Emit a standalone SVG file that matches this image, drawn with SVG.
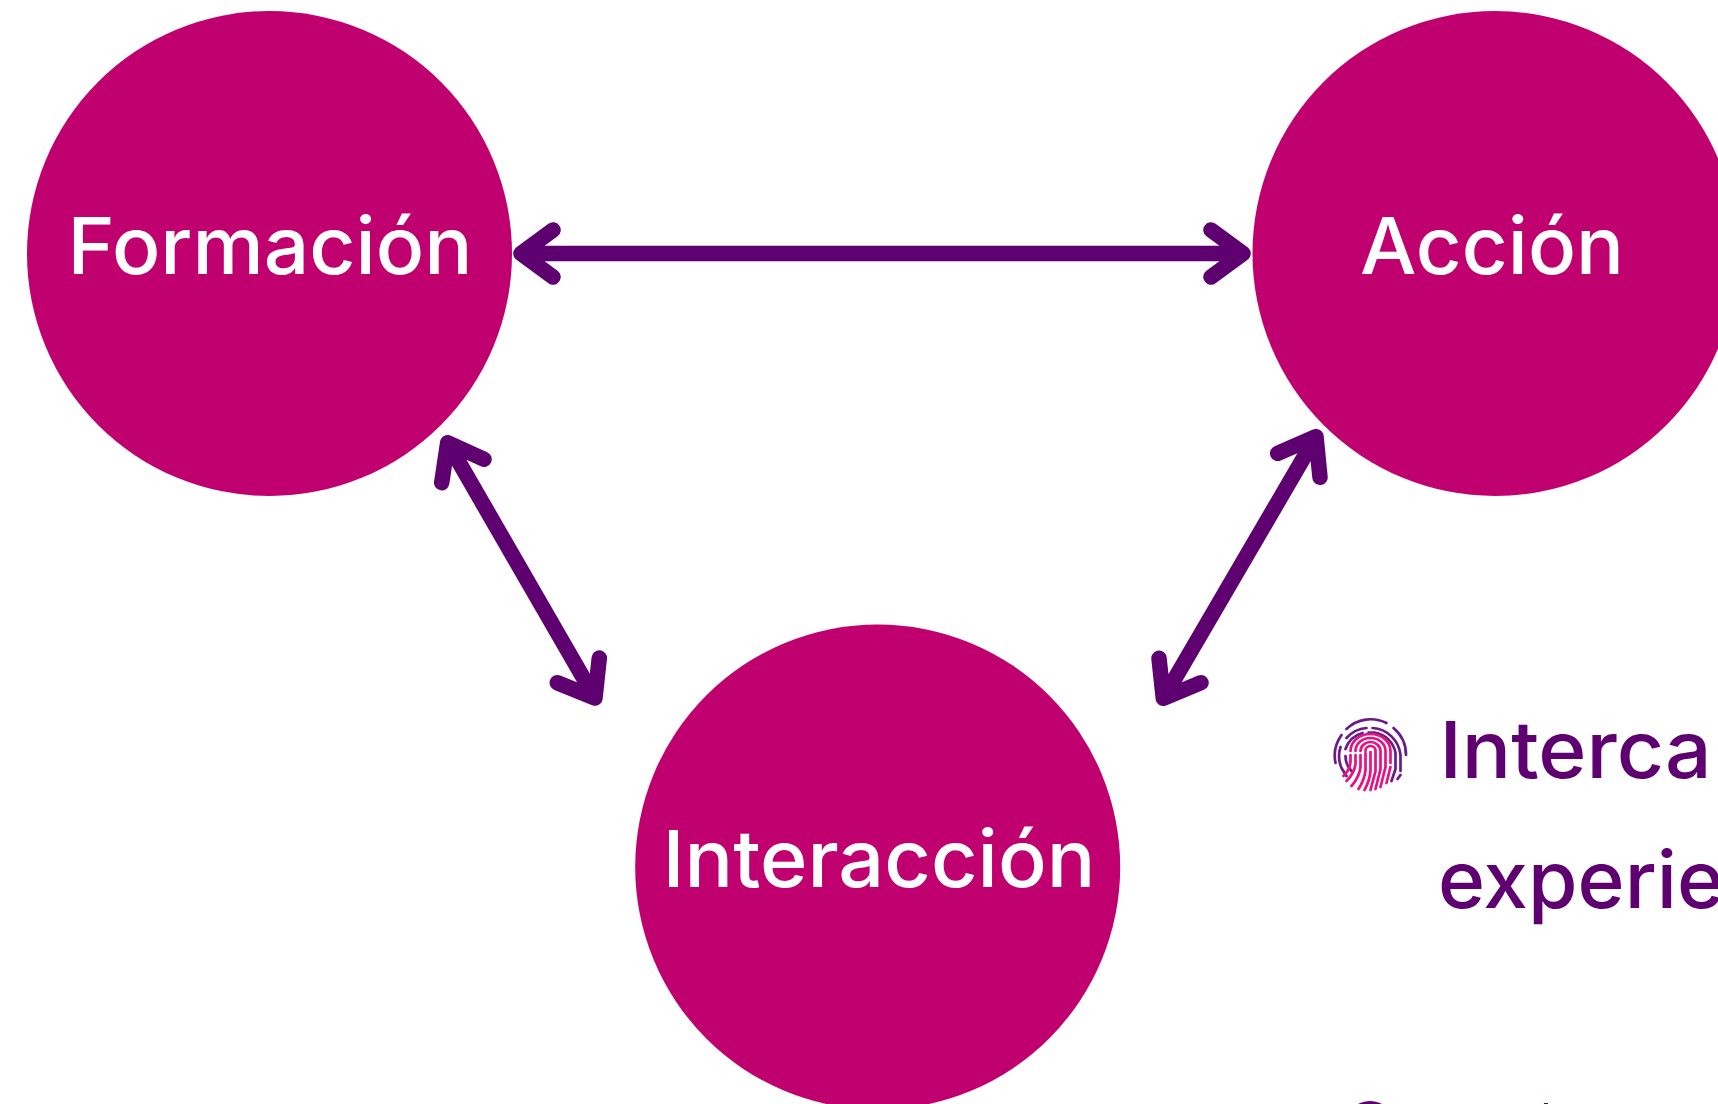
<svg xmlns="http://www.w3.org/2000/svg" width="1718" height="1104" viewBox="0 0 1718 1104">
<style>
.node{fill:#c1006f}
.lbl{font-family:"Inter","Open Sans",sans-serif;font-size:79px;font-weight:500;fill:#fff}
.side{font-family:"Inter","Open Sans",sans-serif;font-size:79px;font-weight:500;fill:#5e0070}
.arr{fill:none;stroke:#5e0070;stroke-linecap:round;stroke-linejoin:round;stroke-width:15.500px}
.fp{fill:none;stroke-width:2.700px;stroke-linecap:round}
.fo{stroke:#6a1b8a}
.fi{stroke:#e6127f}
</style>
<rect width="1718" height="1104" fill="#fff"/>
<g id="node-formacion"><circle class="node" cx="269.500" cy="253.500" r="242.500"/><text class="lbl" x="67.500" y="274" textLength="405" lengthAdjust="spacingAndGlyphs">Formación</text></g>
<g id="node-accion"><circle class="node" cx="1495" cy="253.500" r="242.500"/><text class="lbl" x="1360" y="274" textLength="264" lengthAdjust="spacingAndGlyphs">Acción</text></g>
<g id="node-interaccion"><circle class="node" cx="877.700" cy="867" r="242.500"/><text class="lbl" x="662.500" y="886.500" textLength="433" lengthAdjust="spacingAndGlyphs">Interacción</text></g>
<g id="connectors">
<path class="arr" d="M521 253.500H1243M553 230L521 253.500L553 277M1211 230L1243 253.500L1211 277"/>
<path class="arr" d="M447.700 442.700L595 698M484 459.300L447.700 442.700L441.700 482.700M599.300 658L595 698L557.300 682.700"/>
<path class="arr" d="M1316 436.700L1163.300 698.300M1277.700 453.300L1316 436.700L1320 477.300M1159 658.300L1163.300 698.300L1201 682.700"/>
</g>
<g id="icon-fingerprint" transform="translate(1370.500 755)">
<g class="fp fo">
<path d="M-24 -26A35 35 0 0 1 16 -32M23 -27A35 35 0 0 1 35.500 0"/>
<path d="M-35 8A35.500 35.500 0 0 1 -29 -20"/>
<path d="M-24 -17A30 30 0 0 1 -4 -27M2 -27A30 30 0 0 1 30 0V16M30 20L27 24"/>
<path d="M-30 -8A30 30 0 0 0 -29 13L-24 21"/>
<path d="M-25 -6A25 25 0 0 1 -8 -22M-2 -22.500H4A25 25 0 0 1 25 -2V14L21 26"/>
<path d="M-25 1Q-25 10 -19 16"/>
</g>
<g class="fp fi">
<path d="M-20 -4A20 17 0 0 1 20 -4V8M20 12L16 28"/>
<path d="M-20 0V6Q-20 14 -27 21"/>
<path d="M-15 -4A15 13 0 0 1 15 -4V12L10 32"/>
<path d="M-15 0V9Q-16 18 -24 26"/>
<path d="M-10 -4A10 9 0 0 1 10 -4V14L5 34"/>
<path d="M-10 0V12Q-11 22 -19 31"/>
<path d="M-5 -4A5 5 0 0 1 5 -4V16L0 35"/>
<path d="M-5 -2V15Q-6 25 -12 34"/>
<path d="M0 -3V16Q-1 26 -6 35"/>
</g>
</g>
<text class="side" x="1439.500" y="778" textLength="272" lengthAdjust="spacingAndGlyphs">Interca</text>
<text class="side" x="1438" y="908" textLength="286" lengthAdjust="spacingAndGlyphs">experie</text>
<circle cx="1370" cy="1125" r="24" fill="#5e0070"/>
<rect x="1544" y="1103" width="4" height="1" fill="#5e0070"/>
</svg>
